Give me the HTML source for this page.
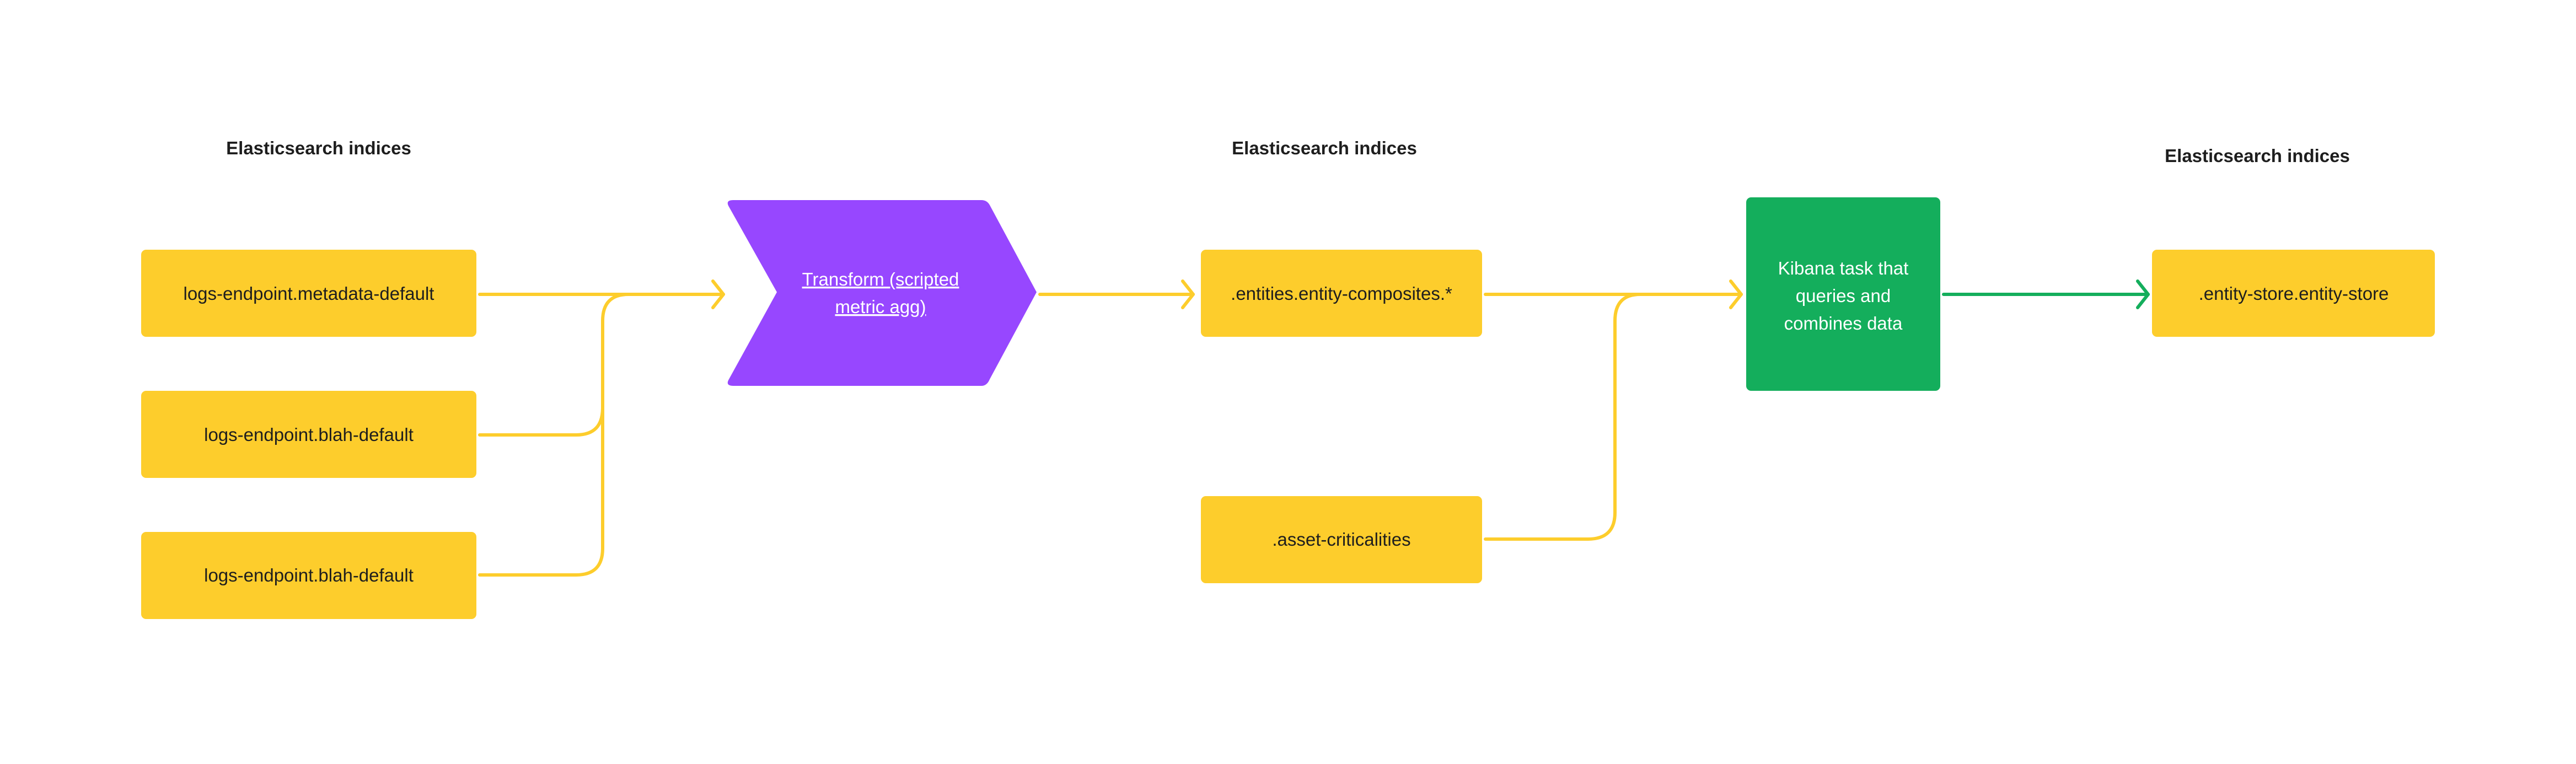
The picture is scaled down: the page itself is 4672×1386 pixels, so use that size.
<!DOCTYPE html>
<html><head><meta charset="utf-8"><style>
body{margin:0;width:4672px;height:1381px;background:#fff;overflow:hidden;font-family:"Liberation Sans",sans-serif;}
</style></head><body>
<svg width="4672" height="1381" viewBox="0 0 4672 1381" xmlns="http://www.w3.org/2000/svg" font-family="Liberation Sans, sans-serif">
<g font-size="33" font-weight="bold" fill="#1e1e1e" text-anchor="middle">
<text x="578" y="280">Elasticsearch indices</text>
<text x="2402" y="280">Elasticsearch indices</text>
<text x="4094" y="294">Elasticsearch indices</text>
</g>
<g fill="#FDCD2C">
<rect x="256" y="453" width="608" height="158" rx="9"/>
<rect x="256" y="709" width="608" height="158" rx="9"/>
<rect x="256" y="965" width="608" height="158" rx="9"/>
<rect x="2178" y="453" width="510" height="158" rx="9"/>
<rect x="2178" y="900" width="510" height="158" rx="9"/>
<rect x="3903" y="453" width="513" height="158" rx="9"/>
</g>
<path d="M1330 363 L1780 363 Q1790 363 1795 372 L1880 530 L1795 688 Q1790 700 1780 700 L1330 700 Q1315 700 1322 688 L1409 530 L1322 375 Q1315 363 1330 363 Z" fill="#9747FF"/>
<rect x="3167" y="358" width="352" height="351" rx="9" fill="#14AE5C"/>
<g fill="none" stroke="#FDCD2C" stroke-width="6" stroke-linecap="round" stroke-linejoin="round">
<path d="M870 534 H1312"/>
<path d="M1293 510 L1312 534 L1293 558"/>
<path d="M870 789 H1045 Q1093 789 1093 740 V582 Q1093 534 1140 534"/>
<path d="M870 1043 H1045 Q1093 1043 1093 995 V740"/>
<path d="M1886 534 H2164"/>
<path d="M2145 510 L2164 534 L2145 558"/>
<path d="M2694 534 H3158"/>
<path d="M3139 510 L3158 534 L3139 558"/>
<path d="M2694 978 H2880 Q2929 978 2929 930 V582 Q2929 534 2975 534"/>
</g>
<g fill="none" stroke="#14AE5C" stroke-width="6" stroke-linecap="round" stroke-linejoin="round">
<path d="M3525 534 H3896"/>
<path d="M3877 510 L3896 534 L3877 558"/>
</g>
<g font-size="33" fill="#1e1e1e" text-anchor="middle">
<text x="560" y="544">logs-endpoint.metadata-default</text>
<text x="560" y="800">logs-endpoint.blah-default</text>
<text x="560" y="1055">logs-endpoint.blah-default</text>
<text x="2433" y="544">.entities.entity-composites.*</text>
<text x="2433" y="990">.asset-criticalities</text>
<text x="4160" y="544">.entity-store.entity-store</text>
</g>
<g font-size="33" fill="#fff" text-anchor="middle">
<text x="1597" y="518" text-decoration="underline">Transform (scripted</text>
<text x="1597" y="568" text-decoration="underline">metric agg)</text>
<text x="3343" y="498">Kibana task that</text>
<text x="3343" y="548">queries and</text>
<text x="3343" y="598">combines data</text>
</g>
</svg>
</body></html>
